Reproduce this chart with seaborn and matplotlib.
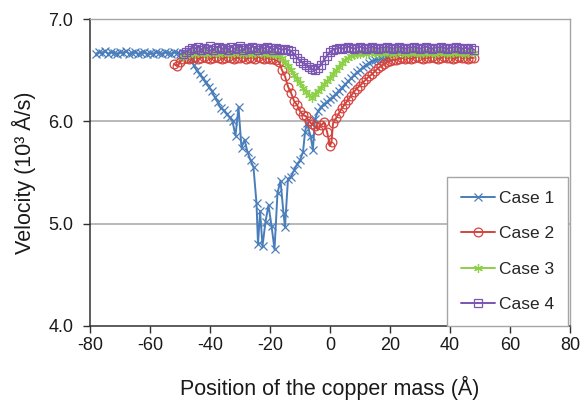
import matplotlib
matplotlib.use("Agg")
import matplotlib.pyplot as plt
import seaborn as sns
import pandas as pd

# Copper mass position (Å) and velocity (10^3 Å/s) for each case
case1_x = [-78, -77, -76, -75, -74, -73, -72, -71, -70, -69, -68, -67, -66, -65,
           -64, -63, -62, -61, -60, -59, -58, -57, -56, -55, -54, -53, -52, -51,
           -50, -49, -48, -47, -46,
           -45.5, -44.5, -43.5, -42.5, -41.5, -40.5, -39.5, -38.5, -37.5, -36.5,
           -35.5, -34.5, -33.5, -32.5, -31.5, -30.5, -29.5, -28.5, -27.5, -26.5,
           -25.5, -24.5, -24, -23.3, -22.5, -21.5, -20.5, -19.5, -18.5, -17.5,
           -16.5, -15.5, -15, -14, -13, -12, -11, -10, -9, -8.3, -7.7, -6.5,
           -5.7, -5, -4, -3, -2, -1, 0, 1, 2, 3, 4, 5, 6, 7, 8, 9, 10, 11, 12,
           13, 14, 15, 16, 17, 18, 19, 20]
case1_v = [6.66, 6.68, 6.67, 6.69, 6.66, 6.68, 6.67, 6.66, 6.68, 6.67, 6.69, 6.66,
           6.67, 6.68, 6.66, 6.67, 6.68, 6.66, 6.67, 6.66, 6.68, 6.67, 6.66, 6.68,
           6.67, 6.66, 6.68, 6.67, 6.66, 6.67, 6.65, 6.64, 6.61,
           6.55, 6.50, 6.46, 6.42, 6.38, 6.34, 6.30, 6.24, 6.19, 6.13,
           6.11, 6.07, 6.04, 6.00, 5.86, 6.14, 5.74, 5.82, 5.70, 5.62,
           5.55, 5.20, 4.80, 5.12, 4.78, 5.02, 5.18, 4.98, 4.75, 5.30,
           5.42, 5.10, 4.97, 5.44, 5.46, 5.52, 5.58, 5.62, 5.70, 5.90, 5.98, 5.86,
           5.72, 6.02, 6.10, 6.14, 6.17, 6.19, 6.22, 6.24, 6.27, 6.30, 6.33, 6.36,
           6.39, 6.42, 6.45, 6.48, 6.50, 6.53, 6.55, 6.57, 6.59, 6.60, 6.61, 6.62,
           6.63, 6.63, 6.64]

case2_x = [-52, -51, -50, -49, -48, -47, -46, -45, -44, -43, -42, -41, -40, -39,
           -38, -37, -36, -35, -34, -33, -32, -31, -30, -29, -28, -27, -26, -25,
           -24, -23, -22, -21, -20, -19, -18, -17, -16, -15, -14, -13, -12, -11,
           -10, -9, -8, -7, -6, -5, -4, -3, -2, -1, 0, 0.5, 1, 2, 3, 4, 5, 6, 7,
           8, 9, 10, 11, 12, 13, 14, 15, 16, 17, 18, 19, 20, 21, 22, 23, 24, 25,
           26, 27, 28, 29, 30, 31, 32, 33, 34, 35, 36, 37, 38, 39, 40, 41, 42,
           43, 44, 45, 46, 47, 48]
case2_v = [6.56, 6.54, 6.58, 6.61, 6.62, 6.61, 6.62, 6.63, 6.61, 6.62, 6.63, 6.62,
           6.61, 6.62, 6.63, 6.62, 6.61, 6.62, 6.63, 6.62, 6.61, 6.62, 6.62, 6.63,
           6.61, 6.62, 6.62, 6.61, 6.63, 6.62, 6.61, 6.62, 6.61, 6.61, 6.60, 6.58,
           6.50, 6.44, 6.34, 6.28, 6.20, 6.16, 6.10, 6.06, 6.05, 6.00, 5.97, 5.95,
           5.92, 5.96, 5.99, 5.90, 5.76, 5.80, 5.98, 6.03, 6.08, 6.13, 6.17, 6.21,
           6.25, 6.29, 6.32, 6.35, 6.38, 6.41, 6.44, 6.46, 6.49, 6.52, 6.54, 6.56,
           6.58, 6.59, 6.60, 6.60, 6.61, 6.62, 6.61, 6.62, 6.61, 6.62, 6.63, 6.62,
           6.61, 6.62, 6.62, 6.63, 6.62, 6.61, 6.62, 6.63, 6.62, 6.62, 6.61, 6.62,
           6.63, 6.62, 6.62, 6.61, 6.62, 6.62]

case3_x = [-49, -48, -47, -46, -45, -44, -43, -42, -41, -40, -39, -38, -37, -36,
           -35, -34, -33, -32, -31, -30, -29, -28, -27, -26, -25, -24, -23, -22,
           -21, -20, -19, -18, -17, -16, -15, -14, -13, -12, -11, -10, -9, -8, -7,
           -6, -5, -4, -3, -2, -1, 0, 1, 2, 3, 4, 5, 6, 7, 8, 9, 10, 11, 12, 13,
           14, 15, 16, 17, 18, 19, 20, 21, 22, 23, 24, 25, 26, 27, 28, 29, 30, 31,
           32, 33, 34, 35, 36, 37, 38, 39, 40, 41, 42, 43, 44, 45, 46, 47, 48]
case3_v = [6.63, 6.65, 6.66, 6.67, 6.66, 6.67, 6.68, 6.67, 6.66, 6.67, 6.68, 6.67,
           6.66, 6.67, 6.68, 6.67, 6.66, 6.67, 6.68, 6.67, 6.66, 6.67, 6.67, 6.66,
           6.67, 6.68, 6.67, 6.66, 6.67, 6.66, 6.66, 6.65, 6.65, 6.62, 6.58, 6.54,
           6.50, 6.45, 6.41, 6.37, 6.33, 6.29, 6.26, 6.23, 6.27, 6.30, 6.33, 6.36,
           6.39, 6.42, 6.46, 6.50, 6.53, 6.57, 6.60, 6.62, 6.64, 6.65, 6.66, 6.66,
           6.67, 6.66, 6.67, 6.68, 6.67, 6.66, 6.67, 6.67, 6.68, 6.67, 6.66, 6.67,
           6.68, 6.67, 6.66, 6.67, 6.67, 6.68, 6.67, 6.66, 6.67, 6.67, 6.68, 6.67,
           6.66, 6.67, 6.68, 6.67, 6.67, 6.66, 6.67, 6.68, 6.67, 6.67, 6.66, 6.67,
           6.68, 6.67]

case4_x = [-49, -48, -47, -46, -45, -44, -43, -42, -41, -40, -39, -38, -37, -36,
           -35, -34, -33, -32, -31, -30, -29, -28, -27, -26, -25, -24, -23, -22,
           -21, -20, -19, -18, -17, -16, -15, -14, -13, -12, -11, -10, -9, -8, -7,
           -6, -5, -4, -3, -2, -1, 0, 1, 2, 3, 4, 5, 6, 7, 8, 9, 10, 11, 12, 13,
           14, 15, 16, 17, 18, 19, 20, 21, 22, 23, 24, 25, 26, 27, 28, 29, 30, 31,
           32, 33, 34, 35, 36, 37, 38, 39, 40, 41, 42, 43, 44, 45, 46, 47, 48]
case4_v = [6.66, 6.68, 6.70, 6.72, 6.71, 6.73, 6.70, 6.72, 6.71, 6.74, 6.70, 6.72,
           6.73, 6.71, 6.72, 6.70, 6.73, 6.71, 6.72, 6.74, 6.70, 6.72, 6.71, 6.73,
           6.72, 6.70, 6.72, 6.71, 6.73, 6.72, 6.70, 6.72, 6.71, 6.70, 6.71, 6.70,
           6.69, 6.66, 6.62, 6.59, 6.57, 6.55, 6.53, 6.51, 6.50, 6.52, 6.55, 6.60,
           6.64, 6.68, 6.70, 6.71, 6.72, 6.71, 6.72, 6.73, 6.72, 6.71, 6.72, 6.73,
           6.72, 6.71, 6.72, 6.73, 6.72, 6.71, 6.72, 6.72, 6.73, 6.72, 6.71, 6.72,
           6.73, 6.72, 6.71, 6.72, 6.72, 6.73, 6.72, 6.71, 6.72, 6.73, 6.72, 6.71,
           6.72, 6.72, 6.73, 6.72, 6.71, 6.72, 6.72, 6.73, 6.72, 6.71, 6.72, 6.71,
           6.72, 6.70]

case_names = ["Case 1", "Case 2", "Case 3", "Case 4"]
x_ticks = [-80, -60, -40, -20, 0, 20, 40, 60, 80]
y_ticks = [4.0, 5.0, 6.0, 7.0]

series = [(case1_x, case1_v), (case2_x, case2_v), (case3_x, case3_v), (case4_x, case4_v)]
colors = ["#4A7EBB", "#D4433E", "#8CD048", "#7B55B2"]
markers = ["x", "o", (6, 2, 0), "s"]
filled = [True, False, True, False]

sns.set_style("white")
plt.rcParams["font.family"] = ["Liberation Sans", "DejaVu Sans"]

fig = plt.figure(figsize=(5.82, 4.04), dpi=100)
ax = fig.add_axes([90 / 582, 78 / 404, 480 / 582, 307 / 404])

for name, (xs, vs), col, mk, fl in zip(case_names, series, colors, markers, filled):
    df = pd.DataFrame({"x": xs, "v": vs})
    sns.lineplot(data=df, x="x", y="v", ax=ax, sort=False, estimator=None,
                 color=col, marker=mk, markersize=6.3, linewidth=1.4,
                 markeredgecolor=col, markeredgewidth=0.9,
                 markerfacecolor=col if fl else "none", label=name, legend=False)

ax.set_xlim(-80, 80)
ax.set_ylim(4.0, 7.0)
ax.set_xticks(x_ticks)
ax.set_xticklabels([str(t) for t in x_ticks])
ax.set_yticks(y_ticks)
ax.set_yticklabels([f"{t:.1f}" for t in y_ticks])

ax.grid(False)
for yv in y_ticks[1:]:
    ax.axhline(yv, color="#A6A6A6", linewidth=1.1, zorder=0)

for side in ["top", "right"]:
    ax.spines[side].set_color("#A6A6A6")
    ax.spines[side].set_linewidth(1.0)
for side in ["left", "bottom"]:
    ax.spines[side].set_color("#303030")
    ax.spines[side].set_linewidth(1.1)

ax.tick_params(axis="both", which="major", direction="out", length=5, width=1.0,
               color="#303030", labelsize=13, labelcolor="#1A1A1A",
               bottom=True, left=True)
ax.tick_params(axis="x", pad=3)
ax.tick_params(axis="y", pad=7)

ax.set_xlabel("Position of the copper mass (Å)", fontsize=15.5, color="#1A1A1A", labelpad=16)
ax.set_ylabel("Velocity (10³ Å/s)", fontsize=15.5, color="#1A1A1A", labelpad=9)

leg = ax.legend(loc="lower right", bbox_to_anchor=(0.996, 0.0), fontsize=12.5,
                frameon=True, fancybox=False, framealpha=1, edgecolor="#A6A6A6",
                handlelength=2.0, handletextpad=0.2, labelspacing=1.17,
                borderpad=0.8, borderaxespad=0)
leg.get_frame().set_linewidth(1.0)

fig.savefig("out.png", dpi=100)
